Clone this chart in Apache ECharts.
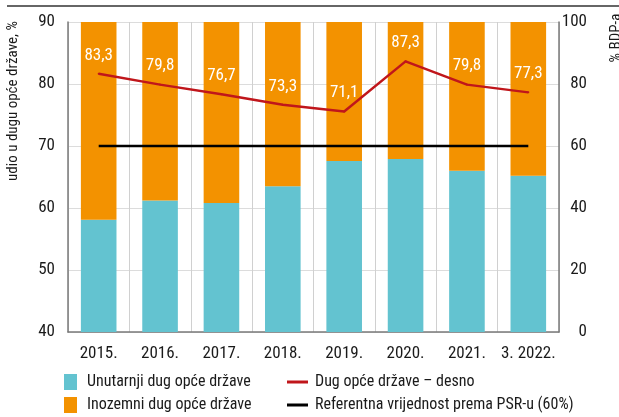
<!DOCTYPE html>
<html>
<head>
<meta charset="utf-8">
<script src="https://cdn.jsdelivr.net/npm/echarts@6/dist/echarts.min.js"></script>
<style>
  html, body { margin: 0; padding: 0; background: #fff; }
  #chart { width: 619px; height: 417px; }
</style>
</head>
<body>
<div id="chart"></div>
<script>
// Categories (year-end, last one is March 2022)
const categories = ['2015.', '2016.', '2017.', '2018.', '2019.', '2020.', '2021.', '3. 2022.'];
// Share in general government debt, % (left axis)
const domesticShare = [58.1, 61.2, 60.8, 63.5, 67.6, 67.9, 66.0, 65.2];
const foreignShare  = [41.9, 38.8, 39.2, 36.5, 32.4, 32.1, 34.0, 34.8];
// General government debt, % of GDP (right axis)
const debtToGdp = [83.3, 79.8, 76.7, 73.3, 71.1, 87.3, 79.8, 77.3];
// Stability and Growth Pact reference value, % of GDP
const sgpReference = [60, 60, 60, 60, 60, 60, 60, 60];

const FONT = '"Roboto Condensed", "Liberation Sans Narrow", sans-serif';
const TEXT = '#1a1a1a';
const AXIS = '#7a7a7a';
const LINE_ICON = 'path://M0,0 L21,0 L21,3 L0,3 Z';

const chart = echarts.init(document.getElementById('chart'), null, { renderer: 'canvas' });

chart.setOption({
  animation: false,
  textStyle: { fontFamily: FONT },
  grid: { left: 68, right: 60, top: 22, bottom: 85 },
  legend: [
    {
      orient: 'vertical', left: 64, top: 374, padding: 0, height: 42, itemGap: 7,
      itemWidth: 13, itemHeight: 16, icon: 'rect',
      textStyle: { fontFamily: FONT, fontSize: 16, color: TEXT, padding: [0, 0, 0, 5] },
      data: ['Unutarnji dug opće države', 'Inozemni dug opće države']
    },
    {
      orient: 'vertical', left: 287, top: 374, padding: 0, height: 42, itemGap: 7,
      itemWidth: 21, itemHeight: 16,
      textStyle: { fontFamily: FONT, fontSize: 16, color: TEXT, padding: [0, 0, 0, 2] },
      data: [
        { name: 'Dug opće države – desno', icon: LINE_ICON },
        { name: 'Referentna vrijednost prema PSR-u (60%)', icon: LINE_ICON }
      ]
    }
  ],
  xAxis: {
    type: 'category',
    data: categories,
    boundaryGap: true,
    axisLine: { lineStyle: { color: AXIS, width: 1.5 } },
    axisTick: { show: false },
    axisLabel: { color: TEXT, fontSize: 17, margin: 13, interval: 0, fontFamily: FONT },
    splitLine: { show: true, interval: 0, lineStyle: { color: '#d0d0d0', width: 1 } }
  },
  yAxis: [
    {
      type: 'value', min: 40, max: 90, interval: 10,
      axisLine: { show: true, lineStyle: { color: AXIS, width: 1.5 } },
      axisTick: { show: false },
      axisLabel: { color: TEXT, fontSize: 17, margin: 13, fontFamily: FONT },
      splitLine: { show: true, lineStyle: { color: '#dcdcdc', width: 1 } }
    },
    {
      type: 'value', min: 0, max: 100, interval: 20, position: 'right',
      axisLine: { show: true, lineStyle: { color: AXIS, width: 1.5 } },
      axisTick: { show: false },
      axisLabel: { color: TEXT, fontSize: 17, margin: 28, align: 'right', fontFamily: FONT },
      splitLine: { show: false }
    }
  ],
  series: [
    {
      name: 'Unutarnji dug opće države',
      type: 'bar', stack: 'share', yAxisIndex: 0,
      barWidth: '58%',
      itemStyle: { color: '#63c3d0' },
      data: domesticShare
    },
    {
      name: 'Inozemni dug opće države',
      type: 'bar', stack: 'share', yAxisIndex: 0,
      barWidth: '58%',
      itemStyle: { color: '#f39200' },
      data: foreignShare
    },
    {
      name: 'Referentna vrijednost prema PSR-u (60%)',
      type: 'line', yAxisIndex: 1,
      symbol: 'none',
      lineStyle: { color: '#000', width: 2.5 },
      itemStyle: { color: '#000' },
      data: sgpReference
    },
    {
      name: 'Dug opće države – desno',
      type: 'line', yAxisIndex: 1,
      symbol: 'circle', symbolSize: 2, showSymbol: true,
      lineStyle: { color: '#c0161b', width: 2.5 },
      itemStyle: { color: '#c0161b' },
      label: {
        show: true, position: 'top', distance: 9,
        color: '#fff', fontSize: 17, fontFamily: FONT,
        formatter: p => p.value.toFixed(1).replace('.', ',')
      },
      data: debtToGdp
    }
  ],
  graphic: [
    {
      type: 'line',
      shape: { x1: 7, y1: 6, x2: 619, y2: 6 },
      style: { stroke: '#333', lineWidth: 1.5 }
    },
    {
      type: 'text',
      x: 13, y: 101, rotation: Math.PI / 2,
      style: {
        text: 'udio u dugu opće države, %',
        font: '15px ' + FONT, fill: TEXT,
        align: 'center', verticalAlign: 'middle'
      }
    },
    {
      type: 'text',
      x: 616, y: 38, rotation: Math.PI / 2,
      style: {
        text: '% BDP-a',
        font: '15px ' + FONT, fill: TEXT,
        align: 'center', verticalAlign: 'middle'
      }
    }
  ]
});
</script>
</body>
</html>
